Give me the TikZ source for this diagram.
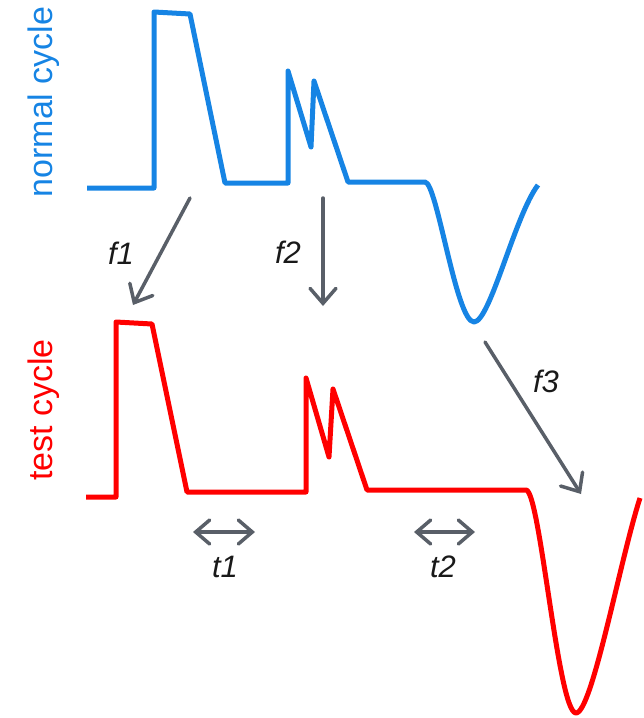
\documentclass[tikz,border=0pt]{standalone}
\usepackage{fontspec}
\setmainfont{Liberation Sans}
\usetikzlibrary{arrows.meta}
\definecolor{normblue}{RGB}{22,132,228}
\definecolor{testred}{RGB}{255,0,0}
\definecolor{arrgray}{RGB}{89,95,104}
\tikzset{
  wave/.style={line width=5pt, line join=round, line cap=butt},
  normalwave/.style={wave, draw=normblue},
  testwave/.style={wave, draw=testred},
  maparrow/.style={draw=arrgray, line width=3.5pt, line cap=round,
    -{Straight Barb[length=15pt,width=26pt,line cap=round]}},
  durarrow/.style={draw=arrgray, line width=3.5pt, line cap=round,
    {Straight Barb[length=14pt,width=24pt,line cap=round]}-{Straight Barb[length=14pt,width=24pt,line cap=round]}},
  lbl/.style={font=\fontsize{31}{35}\selectfont\itshape, text=black!90, inner sep=0pt},
  sidelbl/.style={font=\fontsize{34}{40}\selectfont, rotate=90, inner sep=0pt}
}
\begin{document}
\begin{tikzpicture}[x=1pt,y=-1pt]
\useasboundingbox (0,0) rectangle (643,718);

% side labels
\node[sidelbl, text=normblue] (nlbl) at (44,102) {normal cycle};
\node[sidelbl, text=testred] (tlbl) at (44,410) {test cycle};

% normal cycle waveform
\draw[normalwave] (87,188) -- (154,188) -- (154,12) -- (190,14) -- (225,183)
  -- (288,183) -- (288,71) -- (311,147) -- (314,81) -- (348,182) -- (425,182)
  .. controls (437,182) and (456,322) .. (474,322)
  .. controls (490,322) and (515,215) .. (538,185);

% test cycle waveform
\draw[testwave] (86,497) -- (116,497) -- (116,322) -- (152,324) -- (187,492)
  -- (306,492) -- (306,378) -- (329,457) -- (333,389) -- (367,490) -- (526,490)
  .. controls (540,490) and (558,713) .. (576,713)
  .. controls (592,713) and (620,560) .. (640,498);

% mapping arrows
\coordinate (f1s) at (190,198); \coordinate (f1e) at (133,305);
\coordinate (f2s) at (323,198); \coordinate (f2e) at (323,306);
\coordinate (f3s) at (485,342); \coordinate (f3e) at (581,494);
\draw[maparrow] (f1s) -- (f1e);
\draw[maparrow] (f2s) -- (f2e);
\draw[maparrow] (f3s) -- (f3e);
\node[lbl] (f1) at (121,253) {f1};
\node[lbl] (f2) at (288,252) {f2};
\node[lbl] (f3) at (546,381) {f3};

% duration arrows
\coordinate (t1a) at (193,532); \coordinate (t1b) at (255,532);
\coordinate (t2a) at (414,532); \coordinate (t2b) at (475,532);
\draw[durarrow] (t1a) -- (t1b);
\draw[durarrow] (t2a) -- (t2b);
\node[lbl] (t1) at (225,567) {t1};
\node[lbl] (t2) at (443,567) {t2};
\end{tikzpicture}
\end{document}
